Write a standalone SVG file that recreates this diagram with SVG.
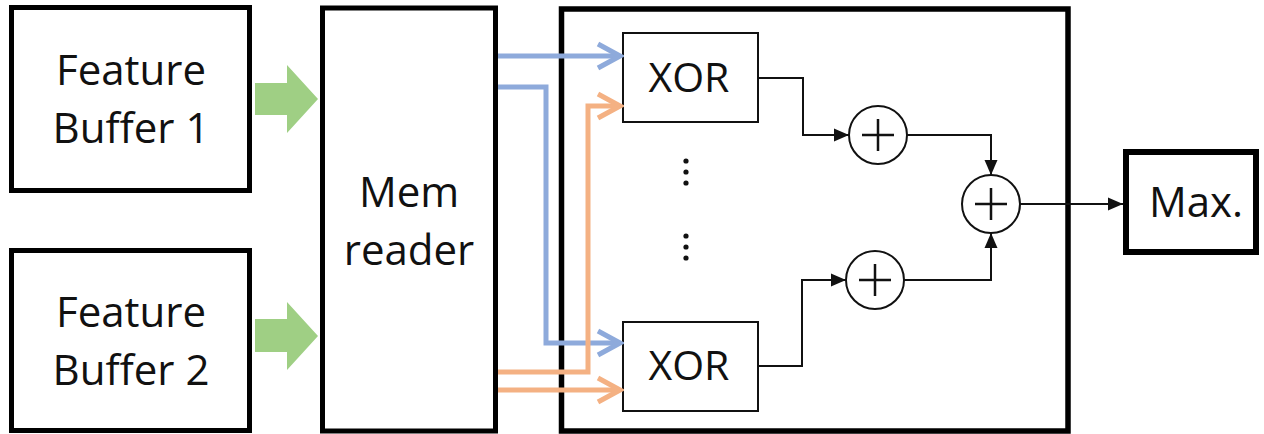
<svg xmlns="http://www.w3.org/2000/svg" width="1264" height="434" viewBox="0 0 1264 434">
<defs>
<style>
.box{fill:#fff;stroke:#000;stroke-width:5}
.thin{fill:#fff;stroke:#111;stroke-width:2}
.lbl{font-family:"Open Sans","Noto Sans","Liberation Sans",sans-serif;font-size:42px;fill:#111;text-anchor:middle}
.xor{font-size:41px}
.blue{fill:none;stroke:#8eaadb;stroke-width:5}
.orange{fill:none;stroke:#f4b183;stroke-width:5}
.wire{fill:none;stroke:#111;stroke-width:2}
.green{fill:#9fcf84}
.dot{fill:#111}
</style>
<marker id="ab" markerUnits="userSpaceOnUse" markerWidth="30" markerHeight="30" viewBox="0 0 30 30" refX="26" refY="15" orient="auto">
<path d="M4,3 L26,15 L4,27" fill="none" stroke="#8eaadb" stroke-width="5"/>
</marker>
<marker id="ao" markerUnits="userSpaceOnUse" markerWidth="30" markerHeight="30" viewBox="0 0 30 30" refX="26" refY="15" orient="auto">
<path d="M4,3 L26,15 L4,27" fill="none" stroke="#f4b183" stroke-width="5"/>
</marker>
<marker id="ak" markerUnits="userSpaceOnUse" markerWidth="16" markerHeight="14" viewBox="0 0 16 14" refX="15" refY="7" orient="auto">
<path d="M0,0.5 L15,7 L0,13.5 z" fill="#111"/>
</marker>
</defs>

<g id="fb1">
<rect class="box" x="11.5" y="7.5" width="238" height="183"/>
<text class="lbl" x="131" y="85">Feature</text>
<text class="lbl" x="131" y="143">Buffer 1</text>
</g>
<g id="fb2">
<rect class="box" x="11.5" y="250.5" width="238" height="180"/>
<text class="lbl" x="131" y="327">Feature</text>
<text class="lbl" x="131" y="385">Buffer 2</text>
</g>
<g id="mem">
<rect class="box" x="322.5" y="8" width="173" height="423"/>
<text class="lbl" x="409" y="207">Mem</text>
<text class="lbl" x="409" y="265">reader</text>
</g>
<g id="core">
<rect class="box" x="561.5" y="9" width="506.5" height="422" style="stroke-width:5.5"/>
</g>
<g id="xor1">
<rect class="thin" x="623" y="33" width="135" height="89"/>
<text class="lbl xor" x="689" y="92">XOR</text>
</g>
<g id="xor2">
<rect class="thin" x="623" y="322" width="135" height="89"/>
<text class="lbl xor" x="689" y="380">XOR</text>
</g>
<g id="dots">
<circle class="dot" cx="686" cy="161" r="2.6"/>
<circle class="dot" cx="686" cy="172" r="2.6"/>
<circle class="dot" cx="686" cy="183" r="2.6"/>
<circle class="dot" cx="686" cy="236" r="2.6"/>
<circle class="dot" cx="686" cy="247" r="2.6"/>
<circle class="dot" cx="686" cy="258" r="2.6"/>
</g>
<g id="add1">
<circle class="thin" cx="878" cy="135" r="29"/>
<path class="wire" d="M862,135 H894 M878,119 V151" style="stroke-width:2.5"/>
</g>
<g id="add2">
<circle class="thin" cx="875" cy="280" r="29"/>
<path class="wire" d="M859,280 H891 M875,264 V296" style="stroke-width:2.5"/>
</g>
<g id="add3">
<circle class="thin" cx="991" cy="204" r="29"/>
<path class="wire" d="M975,204 H1007 M991,188 V220" style="stroke-width:2.5"/>
</g>
<g id="max">
<rect class="box" x="1126" y="152" width="130" height="100" style="stroke-width:6"/>
<text class="lbl" x="1196" y="217">Max.</text>
</g>

<g id="connectors">
<path class="green" d="M255,83 H287 V65 L318,99 L287,133 V115 H255 Z"/>
<path class="green" d="M255,319 H287 V302 L318,336 L287,370 V352 H255 Z"/>
<path class="blue" d="M498,56 H620" marker-end="url(#ab)"/>
<path class="blue" d="M498,87 H546 V343 H620" marker-end="url(#ab)"/>
<path class="orange" d="M498,372 H588 V106 H620" marker-end="url(#ao)"/>
<path class="orange" d="M498,390 H620" marker-end="url(#ao)"/>
<path class="wire" d="M758,78 H803 V135 H849" marker-end="url(#ak)"/>
<path class="wire" d="M758,366 H802 V280 H846" marker-end="url(#ak)"/>
<path class="wire" d="M907,135 H991 V175" marker-end="url(#ak)"/>
<path class="wire" d="M904,280 H991 V233" marker-end="url(#ak)"/>
<path class="wire" d="M1020,204 H1123" marker-end="url(#ak)"/>
</g>
</svg>
